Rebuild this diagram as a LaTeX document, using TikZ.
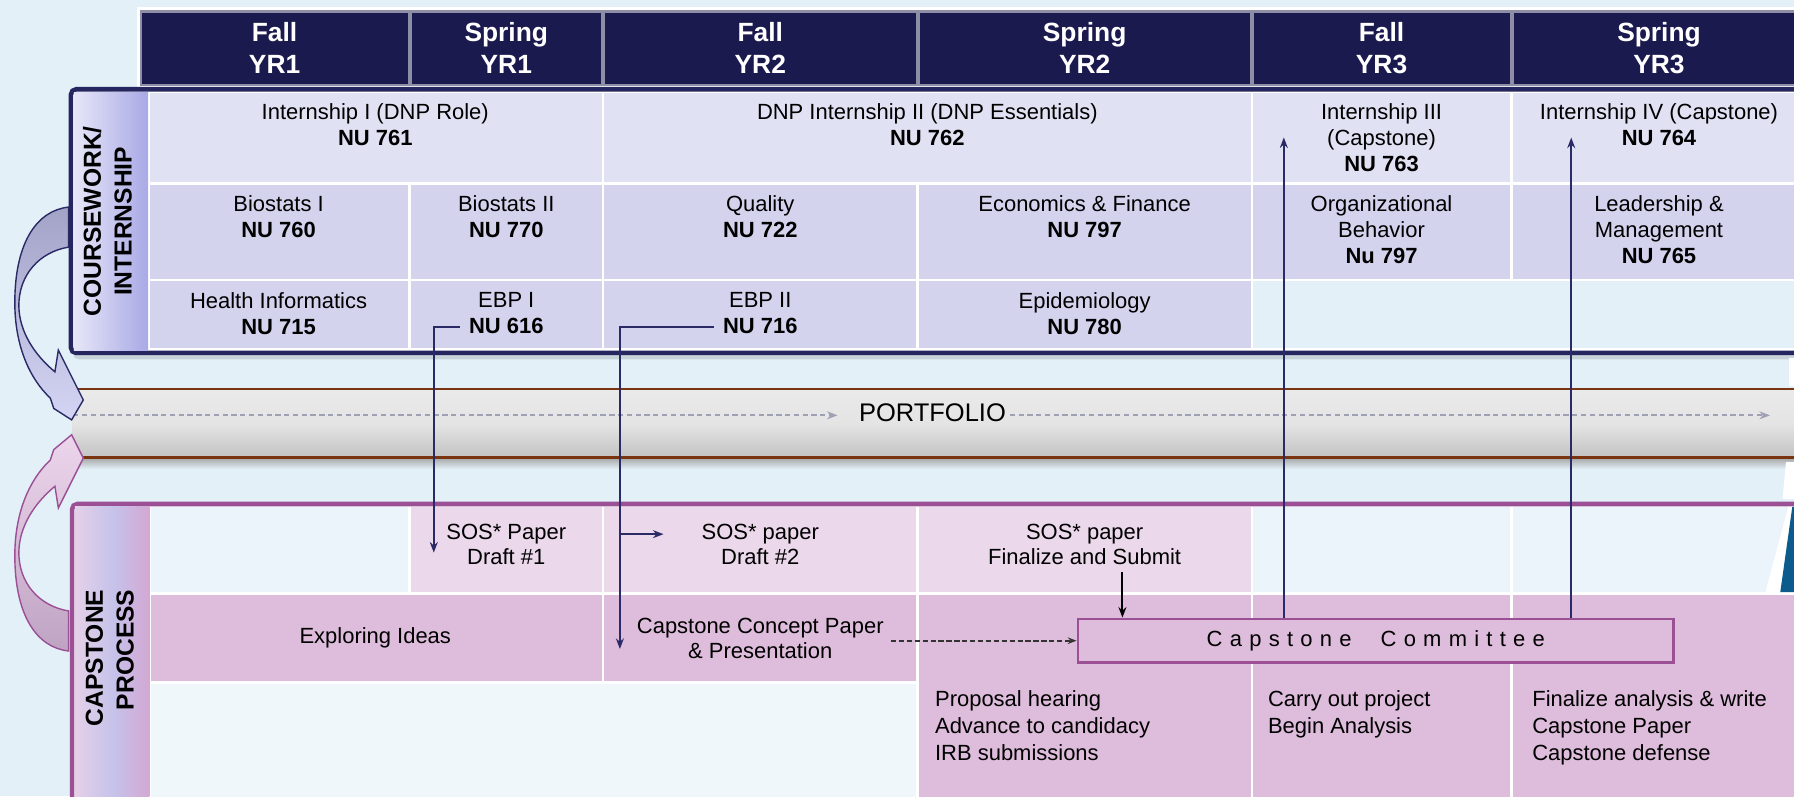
\documentclass[tikz,border=0pt]{standalone}
\usepackage{fontspec}
\setmainfont{Liberation Sans}
\newfontfamily\spacedfont[LetterSpace=33]{Liberation Sans}
\usepackage{tikz}
\usetikzlibrary{arrows.meta, calc}

\definecolor{bgblue}{HTML}{E3F0F8}
\definecolor{hdnavy}{HTML}{1B1A4F}
\definecolor{hdgray}{HTML}{8E8EA6}
\definecolor{cwnavy}{HTML}{25255F}
\definecolor{cwrowA}{HTML}{E1E1F4}
\definecolor{cwrowB}{HTML}{D3D3EE}
\definecolor{cwstripL}{HTML}{E6E6F8}
\definecolor{cwstripR}{HTML}{A9A9E6}
\definecolor{pftop}{HTML}{EAEAEA}
\definecolor{pfbot}{HTML}{C3C3C3}
\definecolor{pfbrown}{HTML}{7B3410}
\definecolor{cppurple}{HTML}{9B4F95}
\definecolor{cprowA}{HTML}{EBD8EB}
\definecolor{cprowB}{HTML}{DEBCDB}
\definecolor{cpempty}{HTML}{EAF4FA}
\definecolor{cpstripL}{HTML}{E4D0E8}
\definecolor{cpstripM}{HTML}{C6C3EA}
\definecolor{cpstripR}{HTML}{D2A8D4}
\definecolor{arrnavy}{HTML}{2A2A66}
\definecolor{portgray}{HTML}{A0A0B4}
\definecolor{edgeteal}{HTML}{0B5B8C}
\definecolor{loopback}{HTML}{A3A3C8}
\definecolor{loopfront}{HTML}{D4D4F4}
\definecolor{pinkback}{HTML}{BFA3C3}
\definecolor{pinkfront}{HTML}{ECD6EC}

\tikzset{
  % Semester header text
  semester/.style={font=\fontsize{15}{18}\selectfont\bfseries, text=white, align=center, inner sep=0pt},
  % Course cells
  course/.style={font=\fontsize{12.5}{14.8}\selectfont, align=center, anchor=north, inner sep=0pt},
  % Capstone milestones
  milestone/.style={font=\fontsize{12.5}{14.3}\selectfont, align=center, inner sep=0pt},
  tasklist/.style={font=\fontsize{12.5}{15.5}\selectfont, align=left, anchor=north west, inner sep=0pt},
  % Side labels
  sidelabel/.style={font=\fontsize{14}{17.5}\selectfont\bfseries, rotate=90, inner sep=0pt},
  % Arrows
  flowarrow/.style={-{Stealth[length=6pt]}, line width=1.2pt, draw=#1},
  flowarrow/.default={arrnavy},
  dasharrow/.style={-{Stealth[length=5pt]}, line width=1.2pt, draw=black!80, dash pattern=on 3pt off 1.5pt},
  portarrow/.style={-{Stealth[length=6pt]}, line width=1pt, draw=portgray, dash pattern=on 3pt off 2pt},
}

\begin{document}
\begin{tikzpicture}[x=0.2288mm, y=-0.2288mm]

  \useasboundingbox (0,0) rectangle (1568,696);
  \clip (0,0) rectangle (1568,696);
  \fill[bgblue] (0,0) rectangle (1568,696);

  % Semester header
  \fill[white] (119.5,6.5) rectangle (1600,77);
  \fill[hdgray] (122,9) rectangle (1600,75.2);
  \fill[hdnavy] (124,11) rectangle (356.5,73);
  \fill[hdnavy] (360,11) rectangle (525.5,73);
  \fill[hdnavy] (529,11) rectangle (800.5,73);
  \fill[hdnavy] (804,11) rectangle (1092.5,73);
  \fill[hdnavy] (1096,11) rectangle (1319.5,73);
  \fill[hdnavy] (1323,11) rectangle (1600,73);

  \node[semester] (fall1) at (240,42) {Fall\\YR1};
  \node[semester] (spring1) at (442.5,42) {Spring\\YR1};
  \node[semester] (fall2) at (664.5,42) {Fall\\YR2};
  \node[semester] (spring2) at (948,42) {Spring\\YR2};
  \node[semester] (fall3) at (1207.5,42) {Fall\\YR3};
  \node[semester] (spring3) at (1450,42) {Spring\\YR3};

  % Coursework / internship block
  \fill[black, opacity=0.12, rounded corners=3pt] (64,82) rectangle (1600,314);
  \draw[cwnavy, line width=2.6pt, fill=white, rounded corners=3pt] (62,78) rectangle (1600,308.5);
  \shade[left color=cwstripL, right color=cwstripR] (64.5,80.5) rectangle (129.5,306);

  \fill[cwrowA] (131,81) rectangle (526,159.5);
  \fill[cwrowA] (528,81) rectangle (1093,159.5);
  \fill[cwrowA] (1095,81) rectangle (1320,159.5);
  \fill[cwrowA] (1322,81) rectangle (1600,159.5);

  \fill[cwrowB] (131,161.5) rectangle (357,244);
  \fill[cwrowB] (359,161.5) rectangle (526,244);
  \fill[cwrowB] (528,161.5) rectangle (801,244);
  \fill[cwrowB] (803,161.5) rectangle (1093,244);
  \fill[cwrowB] (1095,161.5) rectangle (1320,244);
  \fill[cwrowB] (1322,161.5) rectangle (1600,244);

  \fill[cwrowB] (131,246) rectangle (357,304);
  \fill[cwrowB] (359,246) rectangle (526,304);
  \fill[cwrowB] (528,246) rectangle (801,304);
  \fill[cwrowB] (803,246) rectangle (1093,304);
  \fill[bgblue] (1095,246) rectangle (1600,304);

  \node[sidelabel, align=center] (cwlabel) at (94,193.5) {COURSEWORK/\\INTERNSHIP};

  \node[course] (int1) at (328,90) {Internship I (DNP Role)\\\textbf{NU 761}};
  \node[course] (int2) at (810.5,90) {DNP Internship II (DNP Essentials)\\\textbf{NU 762}};
  \node[course] (int3) at (1207.5,90) {Internship III\\(Capstone)\\\textbf{NU 763}};
  \node[course] (int4) at (1450,90) {Internship IV (Capstone)\\\textbf{NU 764}};

  \node[course] (bio1) at (243.5,171) {Biostats I\\\textbf{NU 760}};
  \node[course] (bio2) at (442.5,171) {Biostats II\\\textbf{NU 770}};
  \node[course] (quality) at (664.5,171) {Quality\\\textbf{NU 722}};
  \node[course] (econ) at (948,171) {Economics \& Finance\\\textbf{NU 797}};
  \node[course] (orgbeh) at (1207.5,171) {Organizational\\Behavior\\\textbf{Nu 797}};
  \node[course] (leader) at (1450,171) {Leadership \&\\Management\\\textbf{NU 765}};

  \node[course] (hinf) at (243.5,255) {Health Informatics\\\textbf{NU 715}};
  \node[course] (ebp1) at (442.5,255) {EBP I\\\textbf{NU 616}};
  \node[course] (ebp2) at (664.5,255) {EBP II\\\textbf{NU 716}};
  \node[course] (epid) at (948,255) {Epidemiology\\\textbf{NU 780}};

  % Portfolio band
  \shade[top color=black!35, bottom color=bgblue] (63,400) rectangle (1600,410);
  \shade[top color=pftop, bottom color=pfbot, middle color=pftop!85!pfbot] (63,340) rectangle (1600,400);
  \draw[pfbrown, line width=1.6pt] (63,340) -- (1600,340) (63,400) -- (1600,400);
  \node[font=\fontsize{14.5}{17}\selectfont, inner sep=0pt] (portfolio) at (815,361) {PORTFOLIO};
  \coordinate (pfstart) at (64,363);
  \coordinate (pfend) at (1547,363);
  \draw[portarrow] (pfstart) -- ($(portfolio.west |- pfstart)+(-12pt,0)$);
  \draw[portarrow] ($(portfolio.east |- pfend)+(2pt,0)$) -- (pfend);

  % Capstone process block
  \fill[black, opacity=0.12, rounded corners=3pt] (65,444) rectangle (1600,720);
  \draw[cppurple, line width=2.6pt, fill=white, rounded corners=3pt] (63,440.5) rectangle (1600,720);
  \shade[left color=cpstripL, right color=cpstripR, middle color=cpstripM] (65.5,443) rectangle (130.5,720);

  \fill[cpempty] (132,443) rectangle (357,517.5);
  \fill[cprowA] (359,443) rectangle (526,517.5);
  \fill[cprowA] (528,443) rectangle (801,517.5);
  \fill[cprowA] (803,443) rectangle (1093,517.5);
  \fill[cpempty] (1095,443) rectangle (1320,517.5);
  \fill[cpempty] (1322,443) rectangle (1600,517.5);

  \fill[cprowB] (132,520) rectangle (526,595);
  \fill[cprowB] (528,520) rectangle (801,595);
  \fill[cprowB] (803,520) rectangle (1093,720);
  \fill[cprowB] (1095,520) rectangle (1320,720);
  \fill[cprowB] (1322,520) rectangle (1600,720);
  \fill[cpempty!75!white] (132,597.5) rectangle (801,720);

  % right edge remnant
  \fill[white] (1563,443) -- (1568,443) -- (1568,517.5) -- (1543,517.5) -- cycle;
  \fill[edgeteal] (1566.5,443) -- (1568,443) -- (1568,517.5) -- (1556,517.5) -- cycle;
  \fill[white] (1561,404) -- (1568,404) -- (1568,436) -- (1558,436) -- cycle;
  \fill[white] (1564,313) rectangle (1568,337);

  \node[sidelabel, align=right] (cplabel) at (96,575) {CAPSTONE\\PROCESS};

  \node[milestone, anchor=north] (sos1) at (442.5,458) {SOS* Paper\\Draft \#1};
  \node[milestone, anchor=north] (sos2) at (664.5,458) {SOS* paper\\Draft \#2};
  \node[milestone, anchor=north] (sos3) at (948,458) {SOS* paper\\Finalize and Submit};
  \node[milestone] (explore) at (328,557.5) {Exploring Ideas};
  \node[milestone] (concept) at (664.5,558) {Capstone Concept Paper\\\& Presentation};
  \node[draw=cppurple, line width=1.6pt, fill=cprowB, minimum width=339pt, minimum height=24.7pt,
        inner sep=0pt, font=\spacedfont\fontsize{12.5}{15}\selectfont] (committee) at (1202.5,560)
        {Capstone\hspace{9pt} Committee};

  \node[tasklist] (proposal) at (817,603) {Proposal hearing\\Advance to candidacy\\IRB submissions};
  \node[tasklist] (carryout) at (1108,603) {Carry out project\\Begin Analysis};
  \node[tasklist] (finalize) at (1339,603) {Finalize analysis \& write\\Capstone Paper\\Capstone defense};

  % Connectors
  \coordinate (sos1in) at ($(sos1.west)+(-7pt,-4.5pt)$);
  \draw[flowarrow] ($(ebp1.south west)+(-5pt,4pt)$) -| (sos1in);

  \coordinate (conceptin) at ($(concept.west)+(-9.5pt,-6pt)$);
  \coordinate (sos2in) at ($(sos2.west)+(-21.5pt,6pt)$);
  \draw[flowarrow] ($(ebp2.south west)+(-5pt,4pt)$) -| (conceptin);
  \draw[flowarrow] (conceptin |- sos2in) -- (sos2in);

  \coordinate (conceptout) at (committee.west -| concept.east);
  \draw[dasharrow] ($(conceptout)+(4pt,0)$) -- (committee.west);

  \coordinate (submitout) at ($(sos3.south)+(21.5pt,-4pt)$);
  \draw[flowarrow=black] (submitout) -- (submitout |- committee.north);

  \coordinate (int3in) at ($(int3.west)+(-21pt,0)$);
  \coordinate (int4in) at ($(int4.west)+(18pt,-7.5pt)$);
  \draw[flowarrow] (committee.north -| int3in) -- (int3in);
  \draw[flowarrow] (committee.north -| int4in) -- (int4in);

  % Loop arrows into the portfolio
  \shadedraw[draw=cppurple, line width=0.8pt, top color=pinkfront, bottom color=pinkback]
    (60,569) .. controls (32,566) and (14,538) .. (13,490)
    .. controls (12,450) and (25,420) .. (44,402)
    -- (47,393) -- (62.6,380) -- (72.8,400.4) -- (51,444) -- (48,425)
    .. controls (30,440) and (17,460) .. (16.5,482)
    .. controls (16,510) and (35,530) .. (60,534) -- cycle;
  \shadedraw[draw=arrnavy, line width=0.8pt, top color=loopback, bottom color=loopfront]
    (60,181) .. controls (32,184) and (14,212) .. (13,260)
    .. controls (12,300) and (25,330) .. (44,348)
    -- (47,357) -- (62.6,367) -- (72.8,349.6) -- (51,306) -- (48,325)
    .. controls (30,310) and (17,290) .. (16.5,268)
    .. controls (16,240) and (35,220) .. (60,216) -- cycle;

\end{tikzpicture}
\end{document}
